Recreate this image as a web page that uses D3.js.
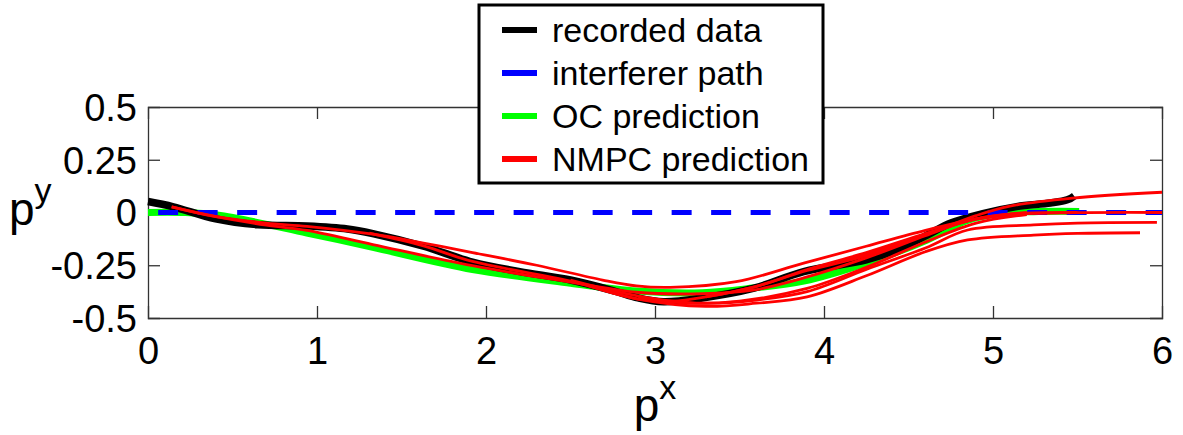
<!DOCTYPE html>
<html>
<head>
<meta charset="utf-8">
<script src="https://cdn.jsdelivr.net/npm/d3@7"></script>
<style>
	body{margin:0;background:#fff;}
	svg text{font-family:"Liberation Sans",Arial,sans-serif;fill:#000;}
</style>
</head>
<body>
<svg id="chart" width="1183" height="435"></svg>
<script>
// tick labels
var xTicks = [0,1,2,3,4,5,6];
var yTicks = [-0.5,-0.25,0,0.25,0.5];
var yTickText = ["-0.5","-0.25","0","0.25","0.5"];

// series: [px, py]
var recorded = [[0,0.052],[0.15,0.027],[0.4,-0.03],[0.65,-0.058],[0.94,-0.064],[1.18,-0.078],[1.33,-0.1],[1.63,-0.16],[1.92,-0.235],[2.2,-0.28],[2.5,-0.32],[2.75,-0.37],[2.9,-0.405],[3.05,-0.423],[3.28,-0.405],[3.58,-0.36],[3.88,-0.28],[4.25,-0.225],[4.45,-0.17],[4.61,-0.107],[4.75,-0.05],[4.94,-0.005],[5.14,0.028],[5.34,0.045],[5.44,0.06],[5.48,0.078]];
var interferer = [[0.06,0],[6,0]];
var ocPred = [[0,0],[0.2,0],[0.41,-0.012],[0.94,-0.097],[1.33,-0.165],[1.92,-0.27],[2.5,-0.335],[2.89,-0.372],[3.28,-0.38],[3.58,-0.358],[3.88,-0.325],[4.25,-0.24],[4.61,-0.13],[4.84,-0.04],[5.04,-0.005],[5.24,0.004],[5.51,0.005]];
var nmpc1 = [[0.14,0.027],[0.4,-0.018],[0.7,-0.05],[0.94,-0.066],[1.33,-0.103],[1.63,-0.145],[1.92,-0.19],[2.3,-0.25],[2.69,-0.32],[2.89,-0.348],[3.09,-0.355],[3.48,-0.328],[3.88,-0.24],[4.25,-0.16],[4.6,-0.085],[4.9,-0.03],[5.2,-0.005]];
var nmpc2 = [[0.14,0.027],[0.4,-0.02],[0.7,-0.06],[0.94,-0.085],[1.33,-0.152],[1.92,-0.252],[2.5,-0.33],[2.89,-0.378],[3.28,-0.385],[3.58,-0.368],[3.88,-0.31],[4.25,-0.215],[4.6,-0.11],[4.85,-0.04],[5.1,-0.008],[5.5,0]];
var nmpc3 = [[1.31,-0.098],[1.63,-0.158],[1.92,-0.232],[2.5,-0.325],[2.9,-0.41],[3.1,-0.42],[3.3,-0.4],[3.6,-0.35],[3.9,-0.275],[4.25,-0.205],[4.6,-0.105],[4.9,-0.03],[5.2,0]];
var nmpc4 = [[2.5,-0.32],[2.8,-0.38],[3.05,-0.415],[3.3,-0.43],[3.6,-0.415],[3.9,-0.375],[4.25,-0.27],[4.6,-0.168],[4.85,-0.083],[5.24,-0.059],[5.5,-0.05],[5.97,-0.047]];
var nmpc5 = [[2.6,-0.345],[2.9,-0.41],[3.3,-0.445],[3.6,-0.43],[3.9,-0.4],[4.25,-0.3],[4.6,-0.186],[4.85,-0.13],[5.24,-0.107],[5.5,-0.099],[5.87,-0.096]];
var nmpc6 = [[3.3,-0.4],[3.6,-0.35],[3.9,-0.27],[4.25,-0.19],[4.6,-0.1],[4.85,-0.04],[5.1,-0.01],[5.5,-0.001],[6,0]];
var nmpc7 = [[4.1,-0.23],[4.4,-0.16],[4.65,-0.09],[4.9,-0.015],[5.1,0.03],[5.47,0.068],[6,0.096]];
var nmpc8 = [[2.9,-0.405],[3.2,-0.43],[3.5,-0.42],[3.9,-0.36],[4.25,-0.26],[4.6,-0.14],[4.9,-0.05],[5.2,-0.01]];
var nmpcAll = [nmpc1,nmpc2,nmpc3,nmpc4,nmpc5,nmpc6,nmpc7,nmpc8];

var legendLabels = ["recorded data","interferer path","OC prediction","NMPC prediction"];
var legendColors = ["#000000","#0000ff","#00ff00","#ff0000"];

var svg = d3.select("#chart");
var mLeft = 148, mRight = 1162, mTop = 107, mBottom = 318;

var x = d3.scaleLinear().domain([0,6]).range([mLeft,mRight]);
var y = d3.scaleLinear().domain([-0.5,0.5]).range([mBottom,mTop]);

// axes box with inward ticks on all four sides
var tickLen = 12;
var axB = svg.append("g").attr("transform","translate(0,"+mBottom+")")
	.call(d3.axisBottom(x).tickValues(xTicks).tickSize(-tickLen).tickPadding(19).tickFormat(d3.format("d")));
var axT = svg.append("g").attr("transform","translate(0,"+mTop+")")
	.call(d3.axisTop(x).tickValues(xTicks).tickSize(-tickLen).tickFormat(""));
var axL = svg.append("g").attr("transform","translate("+mLeft+",0)")
	.call(d3.axisLeft(y).tickValues(yTicks).tickSize(-tickLen).tickPadding(11).tickFormat(function(d,i){return yTickText[i];}));
var axR = svg.append("g").attr("transform","translate("+mRight+",0)")
	.call(d3.axisRight(y).tickValues(yTicks).tickSize(-tickLen).tickFormat(""));
[axB,axT,axL,axR].forEach(function(a){
	a.attr("font-size",38).attr("font-family",null);
	a.select(".domain").attr("stroke","#333").attr("stroke-width",1.3);
	a.selectAll(".tick line").attr("stroke","#333").attr("stroke-width",1.3);
	a.selectAll(".tick text").attr("fill","#000");
});
axB.selectAll(".tick text").attr("dy","0.71em");
axL.selectAll(".tick text").attr("dy","0.35em");
// hide the tick marks that sit on the box corners
[axB,axT].forEach(function(a){ a.selectAll(".tick line").filter(function(d){return d===0||d===6;}).remove(); });
[axL,axR].forEach(function(a){ a.selectAll(".tick line").filter(function(d){return d===-0.5||d===0.5;}).remove(); });

var line = d3.line().x(function(d){return x(d[0]);}).y(function(d){return y(d[1]);}).curve(d3.curveCatmullRom.alpha(0.5));

var plot = svg.append("g");
plot.append("path").datum(ocPred).attr("d",line)
	.attr("fill","none").attr("stroke","#00ff00").attr("stroke-width",7);
plot.append("path").datum(recorded).attr("d",line)
	.attr("fill","none").attr("stroke","#000").attr("stroke-width",7.5);
plot.append("path").datum(interferer).attr("d",line)
	.attr("fill","none").attr("stroke","#0000ff").attr("stroke-width",5).attr("stroke-dasharray","20,19.5");
plot.selectAll(".nmpc").data(nmpcAll).enter().append("path").attr("class","nmpc")
	.attr("d",line).attr("fill","none").attr("stroke","#ff0000").attr("stroke-width",2.8);

// axis labels
var xl = svg.append("text").attr("x",x(3)).attr("y",421).attr("text-anchor","middle");
xl.append("tspan").attr("font-size",46).text("p");
xl.append("tspan").attr("font-size",34).attr("dy",-22).text("x");
var yl = svg.append("text").attr("x",9).attr("y",225);
yl.append("tspan").attr("font-size",46).text("p");
yl.append("tspan").attr("font-size",34).attr("dy",-23).text("y");

// legend
var lg = svg.append("g");
lg.append("rect").attr("x",479).attr("y",5).attr("width",344).attr("height",178)
	.attr("fill","#fff").attr("stroke","#000").attr("stroke-width",3);
var rows = lg.selectAll(".row").data(legendLabels).enter().append("g").attr("class","row")
	.attr("transform",function(d,i){return "translate(0,"+(30+i*43)+")";});
rows.append("line").attr("x1",502).attr("x2",537).attr("y1",0).attr("y2",0)
	.attr("stroke",function(d,i){return legendColors[i];}).attr("stroke-width",6);
rows.append("text").attr("x",552).attr("y",12).attr("font-size",34).text(function(d){return d;});
</script>
</body>
</html>
